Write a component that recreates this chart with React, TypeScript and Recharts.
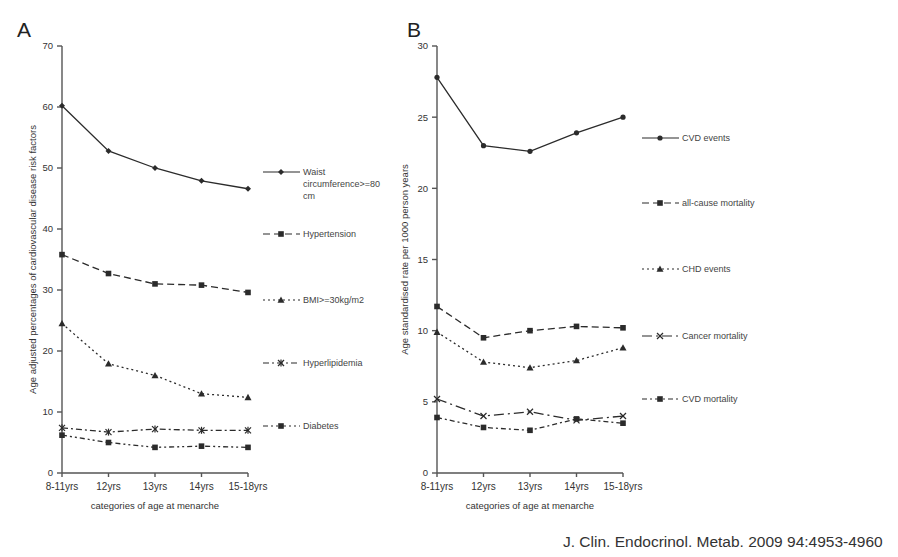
import React from "react";
import { LineChart, Line, XAxis, YAxis } from "recharts";

const ageCategories = ["8-11yrs", "12yrs", "13yrs", "14yrs", "15-18yrs"];

// panel A: age adjusted percentages of CVD risk factors
const waist = [60.2, 52.8, 50.0, 47.9, 46.6];
const hypertension = [35.8, 32.7, 31.0, 30.8, 29.6];
const bmi = [24.5, 17.9, 16.0, 13.0, 12.4];
const hyperlipidemia = [7.4, 6.7, 7.2, 7.0, 7.0];
const diabetes = [6.2, 5.0, 4.2, 4.4, 4.2];
const ticksA = [0, 10, 20, 30, 40, 50, 60, 70];

// panel B: age standardised rate per 1000 person years
const cvdEvents = [27.8, 23.0, 22.6, 23.9, 25.0];
const allCauseMortality = [11.7, 9.5, 10.0, 10.3, 10.2];
const chdEvents = [9.9, 7.8, 7.4, 7.9, 8.8];
const cancerMortality = [5.2, 4.0, 4.3, 3.7, 4.0];
const cvdMortality = [3.9, 3.2, 3.0, 3.8, 3.5];
const ticksB = [0, 5, 10, 15, 20, 25, 30];

const INK = "#2b2b2b";
const AXIS = "#555";
const FONT = "'Liberation Sans', Arial, sans-serif";

type Shape = "diamond" | "square" | "triangle" | "x" | "asterisk" | "circle";

interface SeriesDef {
  key: string;
  lines: string[];
  values: number[];
  dash?: string;
  shape: Shape;
}

const seriesA: SeriesDef[] = [
  { key: "waist", lines: ["Waist", "circumference>=80", "cm"], values: waist, shape: "diamond" },
  { key: "hypertension", lines: ["Hypertension"], values: hypertension, dash: "7 4", shape: "square" },
  { key: "bmi", lines: ["BMI>=30kg/m2"], values: bmi, dash: "2 3", shape: "triangle" },
  { key: "hyperlipidemia", lines: ["Hyperlipidemia"], values: hyperlipidemia, dash: "6 3 2 3", shape: "asterisk" },
  { key: "diabetes", lines: ["Diabetes"], values: diabetes, dash: "5 3 2 3 2 3", shape: "square" },
];

const seriesB: SeriesDef[] = [
  { key: "cvdEvents", lines: ["CVD events"], values: cvdEvents, shape: "circle" },
  { key: "allCause", lines: ["all-cause mortality"], values: allCauseMortality, dash: "7 4", shape: "square" },
  { key: "chd", lines: ["CHD events"], values: chdEvents, dash: "2 3", shape: "triangle" },
  { key: "cancer", lines: ["Cancer mortality"], values: cancerMortality, dash: "10 4 2 4", shape: "x" },
  { key: "cvdMort", lines: ["CVD mortality"], values: cvdMortality, dash: "5 3 2 3", shape: "square" },
];

const buildRows = (series: SeriesDef[]) =>
  ageCategories.map((age, i) => {
    const row: Record<string, string | number> = { age };
    series.forEach((s) => (row[s.key] = s.values[i]));
    return row;
  });

const dataA = buildRows(seriesA);
const dataB = buildRows(seriesB);

function Marker({ shape, cx, cy }: { shape: Shape; cx: number; cy: number }) {
  switch (shape) {
    case "diamond":
      return <polygon points={`${cx},${cy - 3} ${cx + 3},${cy} ${cx},${cy + 3} ${cx - 3},${cy}`} fill={INK} />;
    case "circle":
      return <circle cx={cx} cy={cy} r={2.6} fill={INK} />;
    case "square":
      return <rect x={cx - 2.8} y={cy - 2.8} width={5.6} height={5.6} fill={INK} />;
    case "triangle":
      return <polygon points={`${cx},${cy - 3.5} ${cx + 3.5},${cy + 2.8} ${cx - 3.5},${cy + 2.8}`} fill={INK} />;
    case "x":
      return (
        <g stroke={INK} strokeWidth={1.3}>
          <line x1={cx - 3} y1={cy - 3} x2={cx + 3} y2={cy + 3} />
          <line x1={cx - 3} y1={cy + 3} x2={cx + 3} y2={cy - 3} />
        </g>
      );
    default:
      return (
        <g stroke={INK} strokeWidth={1.2}>
          <line x1={cx - 3} y1={cy - 3} x2={cx + 3} y2={cy + 3} />
          <line x1={cx - 3} y1={cy + 3} x2={cx + 3} y2={cy - 3} />
          <line x1={cx} y1={cy - 3.5} x2={cx} y2={cy + 3.5} />
        </g>
      );
  }
}

const dotFor = (shape: Shape) => (props: any) =>
  <Marker key={`${shape}-${props.index}`} shape={shape} cx={props.cx} cy={props.cy} />;

function Legend({ series, x, ys }: { series: SeriesDef[]; x: number; ys: number[] }) {
  return (
    <g fontFamily={FONT} fontSize={9} fill="#444">
      {series.map((s, i) => (
        <g key={s.key}>
          <line x1={x} y1={ys[i]} x2={x + 37} y2={ys[i]} stroke={INK} strokeWidth={1.2} strokeDasharray={s.dash} />
          <Marker shape={s.shape} cx={x + 18} cy={ys[i]} />
          {s.lines.map((t, j) => (
            <text key={t} x={x + 40} y={ys[i] + 3 + j * 12}>{t}</text>
          ))}
        </g>
      ))}
    </g>
  );
}

function Panel({ data, series, ticks, max, yLabel, width, yAxisWidth, right, labelOffset }: any) {
  const labelStyle = { fill: "#333", fontFamily: FONT, fontSize: 9.5 };
  return (
    <LineChart width={width} height={557} data={data} margin={{ top: 46, right, bottom: 0, left: 0 }}>
      <XAxis
        dataKey="age"
        height={84}
        stroke={AXIS}
        strokeWidth={1.4}
        tickSize={4}
        tickMargin={6}
        interval={0}
        tick={{ fontSize: 10, fill: "#333", fontFamily: FONT }}
        label={{ value: "categories of age at menarche", position: "insideBottom", offset: 48, style: labelStyle }}
      />
      <YAxis
        domain={[0, max]}
        ticks={ticks}
        width={yAxisWidth}
        stroke={AXIS}
        strokeWidth={1.4}
        tickSize={5}
        tickMargin={4}
        interval={0}
        tick={{ fontSize: 9.5, fill: "#333", fontFamily: FONT }}
        label={{ value: yLabel, angle: -90, position: "insideLeft", offset: labelOffset, style: { ...labelStyle, textAnchor: "middle" } }}
      />
      {series.map((s: SeriesDef) => (
        <Line
          key={s.key}
          dataKey={s.key}
          type="linear"
          stroke={INK}
          strokeWidth={1.3}
          strokeDasharray={s.dash}
          dot={dotFor(s.shape)}
          activeDot={false}
          isAnimationActive={false}
        />
      ))}
    </LineChart>
  );
}

export default function App() {
  return (
    <div style={{ position: "absolute", left: 0, top: 0, width: 898, height: 557, background: "#fff", overflow: "hidden" }}>
      <div style={{ position: "absolute", left: 0, top: 0 }}>
        <Panel
          data={dataA}
          series={seriesA}
          ticks={ticksA}
          max={70}
          yLabel="Age adjusted percentages of cardiovascular disease risk factors"
          width={390}
          yAxisWidth={62}
          right={142}
          labelOffset={33}
        />
      </div>
      <div style={{ position: "absolute", left: 390, top: 0 }}>
        <Panel
          data={dataB}
          series={seriesB}
          ticks={ticksB}
          max={30}
          yLabel="Age standardised rate per 1000 person years"
          width={508}
          yAxisWidth={47}
          right={275}
          labelOffset={15}
        />
      </div>
      <svg width={898} height={557} style={{ position: "absolute", left: 0, top: 0, pointerEvents: "none" }}>
        <text x={17} y={37} fontFamily={FONT} fontSize={21} fill="#222">A</text>
        <text x={407} y={37} fontFamily={FONT} fontSize={21} fill="#222">B</text>
        <Legend series={seriesA} x={263} ys={[172, 234, 300, 363, 426]} />
        <Legend series={seriesB} x={642} ys={[138, 203, 269, 336, 399]} />
        <text x={563} y={547} fontFamily={FONT} fontSize={15.5} fill="#333">J. Clin. Endocrinol. Metab. 2009 94:4953-4960</text>
      </svg>
    </div>
  );
}
